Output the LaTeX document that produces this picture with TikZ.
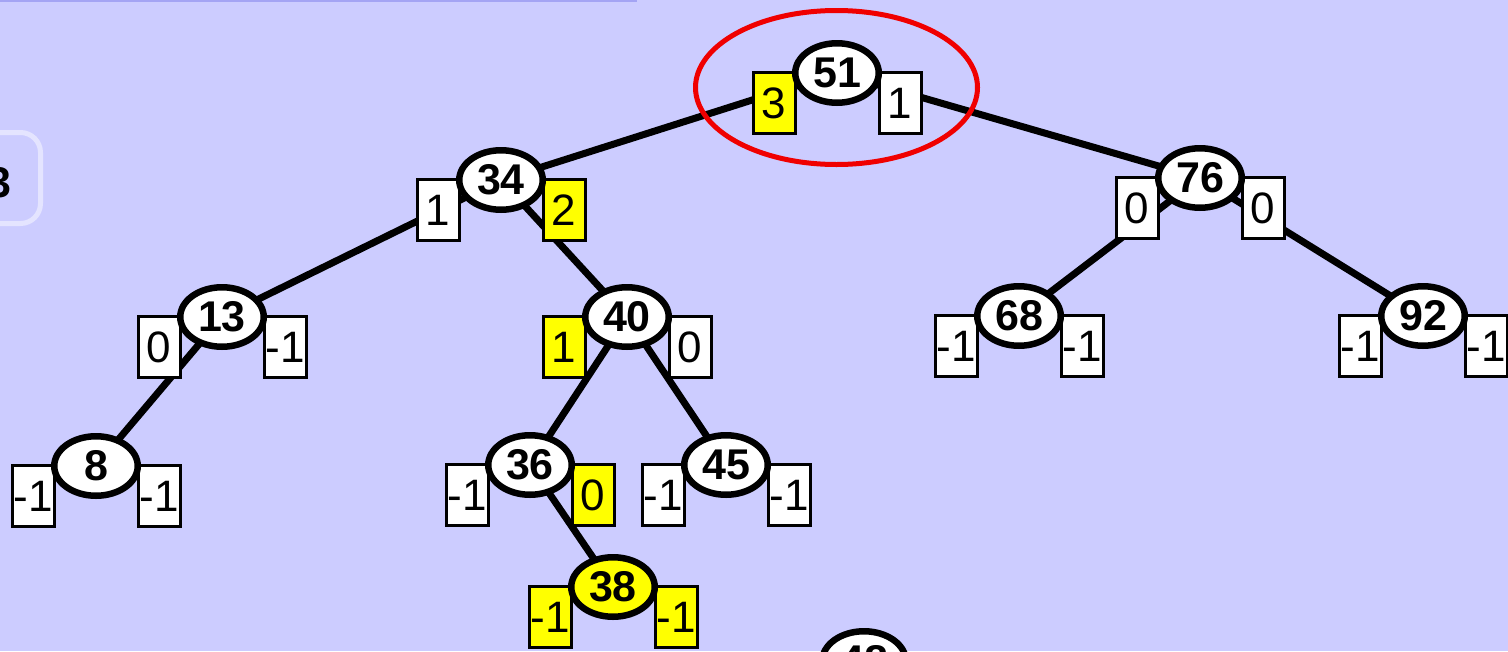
\documentclass[tikz,border=0pt]{standalone}
\usepackage{fontspec}
\setmainfont{Liberation Sans}
\usetikzlibrary{shapes.geometric}
\definecolor{bgc}{HTML}{CCCCFF}
\definecolor{hl}{HTML}{FFFF00}
\definecolor{ring}{HTML}{F00000}
\definecolor{topline}{HTML}{A4A4F4}
\definecolor{paneledge}{HTML}{E4E4FF}
\pgfdeclarelayer{bglayer}
\pgfdeclarelayer{edgelayer}
\pgfsetlayers{bglayer,edgelayer,main}
\tikzset{
  keynode/.style={ellipse, draw=black, line width=6.5pt, fill=white,
    minimum width=83.5pt, minimum height=59.5pt, inner sep=0pt,
    font=\fontsize{43}{43}\selectfont\bfseries},
  hkeynode/.style={keynode, fill=hl},
  cntbox/.style={rectangle, draw=black, line width=3pt, fill=white,
    minimum width=42pt, minimum height=61pt, inner sep=0pt,
    font=\fontsize{44}{44}\selectfont},
  hcntbox/.style={cntbox, fill=hl},
  treeedge/.style={draw=black, line width=7pt},
}
% name, position, label, style, left label, left style, right label, right style
\newcommand\treenode[8]{%
  \coordinate (#1c) at (#2);
  \node[#6] (#1L) at ([shift={(-63,30)}]#1c) {#5};
  \node[#8] (#1R) at ([shift={(63,30)}]#1c) {#7};
  \node[#4] (#1) at (#1c) {#3};
}
\begin{document}
\begin{tikzpicture}[x=1pt,y=-1pt]
\useasboundingbox (0,0) rectangle (1508,651);
\clip (0,0) rectangle (1508,651);
\begin{pgfonlayer}{bglayer}
  \fill[bgc] (0,0) rectangle (1508,651);
  \fill[topline] (0,0) rectangle (637,2);
  \draw[paneledge, line width=5pt, rounded corners=20pt] (-40,132.5) rectangle (40.5,223.5);
\end{pgfonlayer}
\node[anchor=east, inner sep=0pt, font=\fontsize{43}{43}\selectfont\bfseries] (paneltext) at (12,183) {3};

\treenode{n51}{837,73}{51}{keynode}{3}{hcntbox}{1}{cntbox}
\treenode{n34}{501,180}{34}{keynode}{1}{cntbox}{2}{hcntbox}
\treenode{n76}{1200,178}{76}{keynode}{0}{cntbox}{0}{cntbox}
\treenode{n13}{222,317}{13}{keynode}{0}{cntbox}{-1}{cntbox}
\treenode{n40}{627,317}{40}{keynode}{1}{hcntbox}{0}{cntbox}
\treenode{n68}{1019,316}{68}{keynode}{-1}{cntbox}{-1}{cntbox}
\treenode{n92}{1423,316}{92}{keynode}{-1}{cntbox}{-1}{cntbox}
\treenode{n8}{96,466}{8}{keynode}{-1}{cntbox}{-1}{cntbox}
\treenode{n36}{530,465}{36}{keynode}{-1}{cntbox}{0}{hcntbox}
\treenode{n45}{726,465}{45}{keynode}{-1}{cntbox}{-1}{cntbox}
\treenode{n38}{613,587}{38}{hkeynode}{-1}{hcntbox}{-1}{hcntbox}
\node[keynode] (n48) at (864,661) {48};

\begin{pgfonlayer}{edgelayer}
  \draw[treeedge] (n51.center) -- (n34.center);
  \draw[treeedge] (n51.center) -- (n76.center);
  \draw[treeedge] (n34.center) -- (n13.center);
  \draw[treeedge] (n34.center) -- (n40.center);
  \draw[treeedge] (n76.center) -- (n68.center);
  \draw[treeedge] (n76.center) -- (n92.center);
  \draw[treeedge] (n13.center) -- (n8.center);
  \draw[treeedge] (n40.center) -- (n36.center);
  \draw[treeedge] (n40.center) -- (n45.center);
  \draw[treeedge] (n36.center) -- (n38.center);
\end{pgfonlayer}

\draw[ring, line width=5pt] (836.5,87.5) ellipse [x radius=141pt, y radius=77pt];
\end{tikzpicture}
\end{document}
